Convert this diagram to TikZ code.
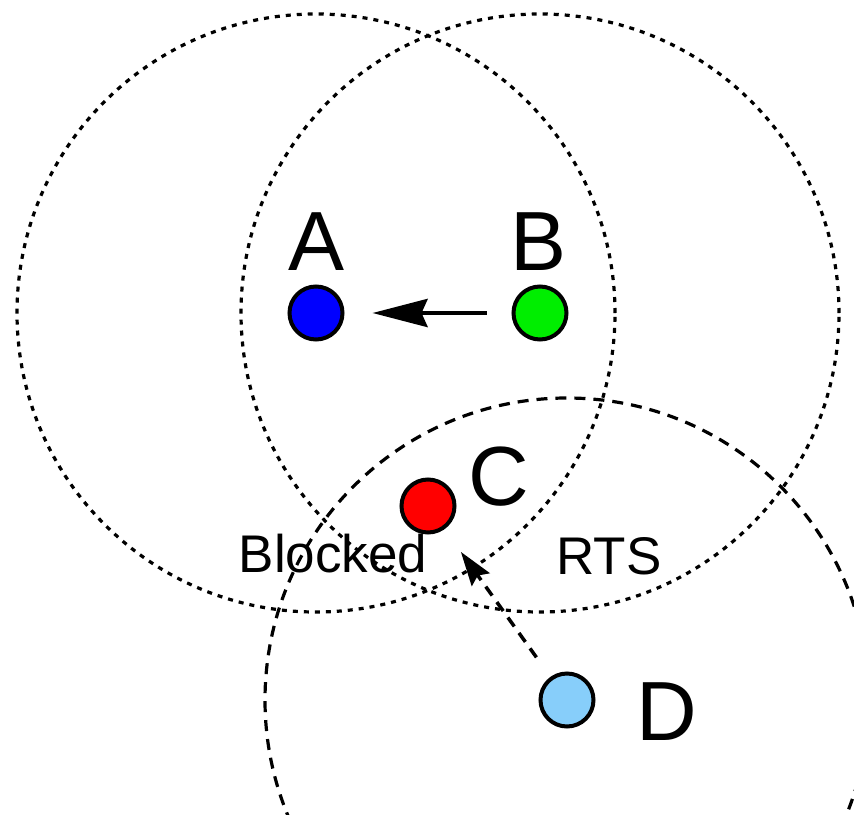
\documentclass[tikz,border=0pt]{standalone}
\usepackage{fontspec}
\setmainfont{Liberation Sans}
\usetikzlibrary{arrows.meta}
\definecolor{nodeblue}{RGB}{0,0,255}
\definecolor{nodegreen}{RGB}{0,238,0}
\definecolor{nodered}{RGB}{255,0,0}
\definecolor{nodesky}{RGB}{135,206,250}
\begin{document}
\begin{tikzpicture}[x=1pt,y=-1pt,
  station/.style={circle,draw=black,line width=4pt,minimum size=53pt,inner sep=0pt},
  bigLabel/.style={anchor=base,inner sep=0pt,font=\fontsize{84}{90}\selectfont},
  smallLabel/.style={anchor=base,inner sep=0pt,font=\fontsize{53}{60}\selectfont},
  rangeAB/.style={line width=3.2pt,dash pattern=on 5pt off 6pt},
  rangeD/.style={line width=3.2pt,dash pattern=on 11pt off 8pt},
  sendArrow/.style={line width=4.5pt,-{Stealth[length=55pt,width=28pt,inset=6pt]}},
  hearArrow/.style={line width=3.5pt,dash pattern=on 11pt off 8pt,-{Stealth[length=34pt,width=22pt,inset=5pt]}}]
\useasboundingbox (0,0) rectangle (854,814);
\coordinate (a) at (316,313);
\coordinate (b) at (540,313);
\coordinate (c) at (428,506);
\coordinate (d) at (567,700);
\begin{scope}
\clip (0,0) rectangle (854,814);
\draw[rangeAB] (a) circle[radius=299pt];
\draw[rangeAB] (b) circle[radius=299pt];
\draw[rangeD] (d) circle[radius=302pt];
\end{scope}
\node[station,fill=nodeblue] (A) at (a) {};
\node[station,fill=nodegreen] (B) at (b) {};
\node[station,fill=nodered] (C) at (c) {};
\node[station,fill=nodesky] (D) at (d) {};
\node[bigLabel] (lA) at (317,270) {A};
\node[bigLabel] (lB) at (539,270) {B};
\node[bigLabel] (lC) at (499,505) {C};
\node[bigLabel] (lD) at (667,740) {D};
\node[smallLabel] (lBlocked) at (333,572) {Blocked};
\node[smallLabel] (lRTS) at (609,574) {RTS};
\draw[sendArrow,shorten <=25pt,shorten >=28pt] (B) -- (A);
\draw[hearArrow,shorten <=24pt,shorten >=28pt] (D) -- (C);
\end{tikzpicture}
\end{document}
